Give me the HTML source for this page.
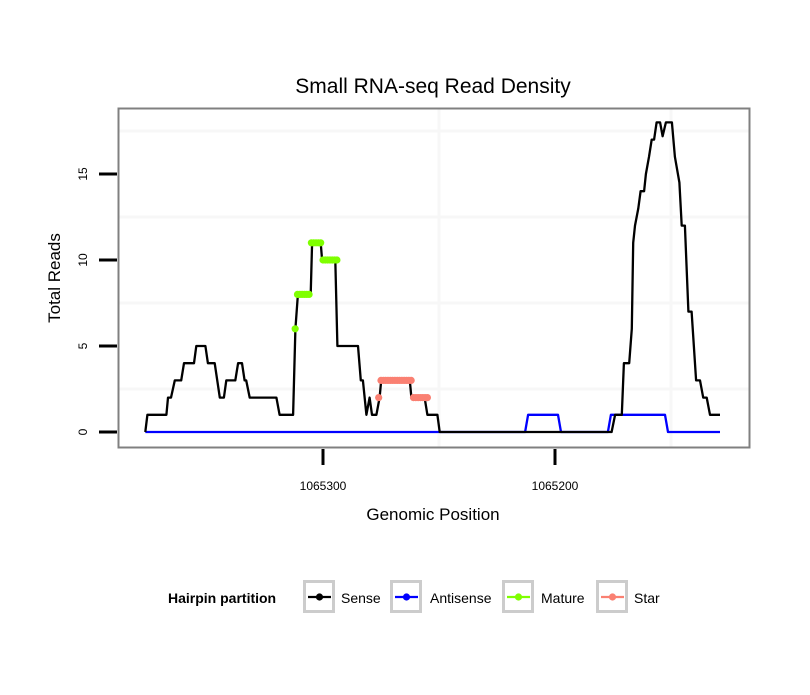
<!DOCTYPE html>
<html><head><meta charset="utf-8"><style>
body{margin:0;background:#fff;}
svg text{font-family:"Liberation Sans",sans-serif;}
</style></head><body>
<svg id="chart" width="810" height="690" xmlns="http://www.w3.org/2000/svg">
<rect width="810" height="690" fill="#fff"/>
<text x="433" y="93" font-size="21" text-anchor="middle">Small RNA-seq Read Density</text>
<g id="grid"></g>
<g id="series"></g>
<rect x="118.5" y="108.5" width="631" height="339" fill="none" stroke="#808080" stroke-width="2"/>
<g id="axes"></g>
<text x="433" y="520" font-size="17" text-anchor="middle">Genomic Position</text>
<text transform="translate(60,278) rotate(-90)" font-size="17" text-anchor="middle">Total Reads</text>
<g>
<text x="168" y="603" font-size="14" font-weight="bold">Hairpin partition</text>
<g id="legend-keys"></g>
</g>
</svg>
<script>
const sensePos=[1065376.6,1065375.7,1065367.5,1065366.8,1065365.5,1065363.9,1065361.1,1065359.9,1065355.6,1065354.6,1065350.7,1065349.6,1065346.7,1065344.5,1065342.7,1065341.7,1065337.8,1065336.6,1065334.9,1065333.8,1065333.1,1065331.6,1065320.1,1065318.7,1065312.9,1065311.9,1065310.8,1065305.3,1065304.7,1065301.0,1065300.4,1065294.7,1065293.8,1065284.9,1065283.7,1065282.8,1065281.3,1065279.9,1065278.9,1065277.0,1065275.6,1065274.9,1065262.6,1065261.9,1065256.2,1065255.0,1065250.7,1065249.7,1065175.6,1065174.1,1065171.2,1065170.3,1065168.0,1065166.9,1065166.3,1065165.5,1065164.1,1065163.1,1065161.6,1065160.8,1065159.5,1065158.3,1065157.3,1065156.2,1065154.7,1065153.6,1065152.2,1065149.6,1065148.3,1065146.4,1065145.4,1065144.0,1065142.5,1065141.1,1065139.2,1065137.5,1065136.1,1065134.6,1065133.2,1065128.9];
const senseVal=[0,1,1,2,2,3,3,4,4,5,5,4,4,2,2,3,3,4,4,3,3,2,2,1,1,6,8,8,11,11,10,10,5,5,3,3,1,2,1,1,2,3,3,2,2,1,1,0,0,1,1,4,4,6,11,12,13,14,14,15,16,17,17,18,18,17.2,18,18,16,14.5,12,12,7,7,3,3,2,2,1,1];
const antiPos=[1065376.6,1065212.9,1065211.6,1065198.7,1065197.4,1065177.2,1065175.9,1065152.6,1065151.3,1065128.9];
const antiVal=[0,0,1,1,0,0,1,1,0,0];
const maturePos=[1065312,1065311,1065310,1065309,1065308,1065307,1065306,1065305,1065304,1065303,1065302,1065301,1065300,1065299,1065298,1065297,1065296,1065295,1065294];
const matureVal=[6,8,8,8,8,8,8,11,11,11,11,11,10,10,10,10,10,10,10];
const starPos=[1065276,1065275,1065274,1065273,1065272,1065271,1065270,1065269,1065268,1065267,1065266,1065265,1065264,1065263,1065262,1065261,1065260,1065259,1065258,1065257,1065256,1065255];
const starVal=[2,3,3,3,3,3,3,3,3,3,3,3,3,3,3,2,2,2,2,2,2,2];
const yTicks=[0,5,10,15];
const xTicks=[1065300,1065200];
const legendLabels=["Sense","Antisense","Mature","Star"];
const legendColors=["#000000","#0000ff","#7fff00","#fa8072"];

const NS="http://www.w3.org/2000/svg";
function X(p){return 323+(1065300-p)*2.32;}
function Y(v){return 432-v*17.2;}
function mk(tag,attrs,parent){const e=document.createElementNS(NS,tag);for(const k in attrs)e.setAttribute(k,attrs[k]);parent.appendChild(e);return e;}
const grid=document.getElementById('grid'),series=document.getElementById('series'),axes=document.getElementById('axes'),leg=document.getElementById('legend-keys');
[2.5,7.5,12.5,17.5].forEach(v=>{const l=mk('line',{x1:119,x2:749,y1:Y(v),y2:Y(v),stroke:'#f7f7f7','stroke-width':3},grid);

});
[1065250,1065150].forEach(p=>{const l=mk('line',{x1:X(p),x2:X(p),y1:109,y2:447,stroke:'#f7f7f7','stroke-width':3},grid);

});
function poly(pos,val,color,name){const pts=pos.map((p,i)=>X(p).toFixed(1)+','+Y(val[i]).toFixed(1)).join(' ');
const l=mk('polyline',{points:pts,fill:'none',stroke:color,'stroke-width':2.3,'stroke-linejoin':'round'},series);

}
poly(antiPos,antiVal,'#0000ff','antisense-line');
poly(sensePos,senseVal,'#000000','sense-line');
function pts(pos,val,color,name){pos.forEach((p,i)=>{const c=mk('circle',{cx:X(p),cy:Y(val[i]),r:3.6,fill:color},series);

});}
pts(maturePos,matureVal,'#7fff00','mature-point');
pts(starPos,starVal,'#fa8072','star-point');
yTicks.forEach(v=>{const l=mk('line',{x1:99,x2:117,y1:Y(v),y2:Y(v),stroke:'#000','stroke-width':3},axes);


const t=mk('text',{transform:`translate(87,${Y(v)}) rotate(-90)`,'font-size':12,'text-anchor':'middle'},axes);t.textContent=v;

});
xTicks.forEach(p=>{const l=mk('line',{x1:X(p),x2:X(p),y1:449,y2:465,stroke:'#000','stroke-width':3},axes);


const t=mk('text',{x:X(p),y:490,'font-size':12,'text-anchor':'middle'},axes);t.textContent=p;

});
const boxX=[303,390,502,596],textX=[341,430,541,634];
legendLabels.forEach((lab,i)=>{const g=mk('g',{},leg);


mk('rect',{x:boxX[i]+1.5,y:581.5,width:29,height:30,fill:'#fff',stroke:'#cccccc','stroke-width':3},g);
mk('line',{x1:boxX[i]+5,x2:boxX[i]+28,y1:597,y2:597,stroke:legendColors[i],'stroke-width':2.3},g);
mk('circle',{cx:boxX[i]+16.5,cy:597,r:3.6,fill:legendColors[i]},g);
const t=mk('text',{x:textX[i],y:603,'font-size':14},g);t.textContent=lab;});
</script>
</body></html>
